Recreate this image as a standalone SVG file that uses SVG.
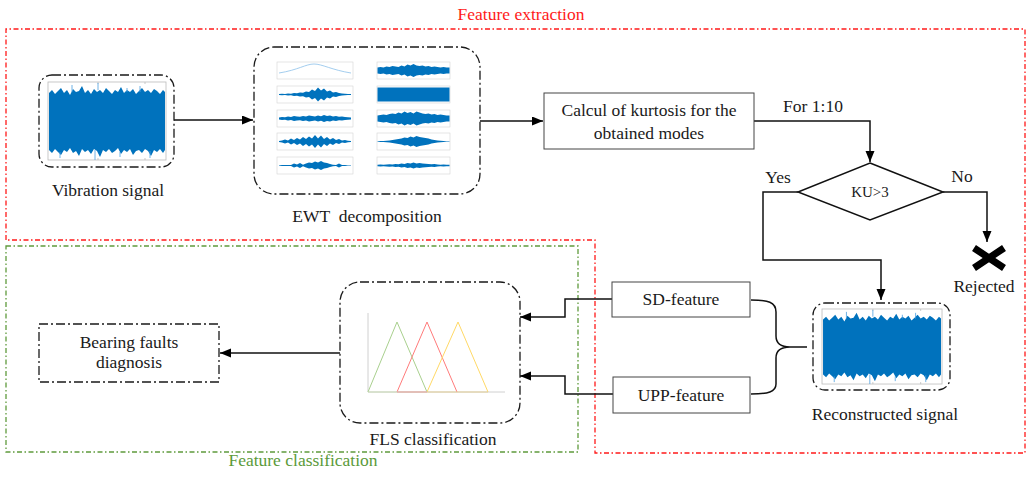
<svg xmlns="http://www.w3.org/2000/svg" width="1028" height="479" viewBox="0 0 1028 479">
<style>
.dd{fill:none;stroke:#1a1a1a;stroke-width:1.3;stroke-dasharray:9 3 2 3}
.ln{fill:none;stroke:#111;stroke-width:1.5}
.box{fill:#fff;stroke:#444;stroke-width:1}
.t{font-family:"Liberation Serif","Times New Roman",serif;font-size:17.5px;fill:#1a1a1a;text-anchor:middle}
.sp{fill:#fff;stroke:#d4d4d4;stroke-width:0.6}
.wv{fill:#0072bd}
</style>
<defs>
<marker id="ah" markerUnits="userSpaceOnUse" markerWidth="12" markerHeight="10" refX="11" refY="4.5" orient="auto">
<path d="M0,0 L11,4.5 L0,9 Z" fill="#000"/>
</marker>
<g id="sig">
<rect x="48" y="82" width="118" height="78" fill="#fff" stroke="#bbb" stroke-width="0.8"/>
<path d="M98,82v2 M145,82v2 M98,160v-2 M145,160v-2" stroke="#bbb" stroke-width="0.8"/>
<polygon class="wv" points="49,93 52,90 55,94 58,91 61,88 64,93 67,90 70,95 73,89 76,92 79,91 82,86 85,93 88,90 91,94 94,89 97,92 100,90 103,93 106,88 109,91 112,94 115,90 118,92 121,87 124,93 127,90 130,92 133,89 136,94 139,91 142,88 145,92 148,90 151,93 154,89 157,91 160,94 163,90 165,92 165,150 163,153 160,149 157,152 154,150 151,156 148,151 145,149 142,153 139,150 136,151 133,155 130,149 127,152 124,150 121,154 118,148 115,151 112,153 109,149 106,152 103,150 100,157 97,151 94,149 91,154 88,150 85,152 82,149 79,156 76,151 73,153 70,148 67,152 64,150 61,155 58,152 55,149 52,153 49,150"/>
<path d="M72,85V92 M98,83V90 M127,88V92 M140,86V92 M60,152V158 M95,150V160 M120,152V157 M150,151V158" stroke="#4a9ee0" stroke-width="0.8"/>
</g>
<path id="L2" d="M0,-0.5 L3,-0.8 6,-0.6 9,-1 12,-0.8 15,-1.5 18,-1.2 21,-2 24,-1.8 27,-3 30,-2.5 33,-5 36,-3.5 39,-7 42,-4 45,-6 48,-3 51,-4 54,-2 57,-2.5 60,-1.5 63,-1 66,-0.8 69,-0.6 72,-0.5 L72,0.5 69,0.6 66,0.8 63,1 60,1.5 57,2.5 54,2 51,4 48,3 45,6 42,4 39,7 36,3.5 33,5 30,2.5 27,3 24,1.8 21,2 18,1.2 15,1.5 12,0.8 9,1 6,0.6 3,0.8 0,0.5Z"/>
<path id="L3" d="M0,-1 L3,-1.5 6,-1.2 9,-2 12,-1.5 15,-2.5 18,-2 21,-1.8 24,-2.5 27,-2 30,-3 33,-2.5 36,-2 39,-3 42,-2.2 45,-3.5 48,-2.5 51,-3 54,-2 57,-2.5 60,-1.8 63,-2 66,-1.5 69,-1.2 72,-1 L72,1 69,1.2 66,1.5 63,2 60,1.8 57,2.5 54,2 51,3 48,2.5 45,3.5 42,2.2 39,3 36,2 33,2.5 30,3 27,2 24,2.5 21,1.8 18,2 15,2.5 12,1.5 9,2 6,1.2 3,1.5 0,1Z"/>
<path id="L4" d="M0,-0.5 L3,-1 6,-2 9,-1 12,-3 15,-1.5 18,-3.5 21,-2 24,-4.5 27,-2.5 30,-5 33,-3 36,-6.5 39,-3 42,-6 45,-2.5 48,-4.5 51,-2 54,-3.5 57,-1.5 60,-2.5 63,-1 66,-1.5 69,-0.8 72,-0.5 L72,0.5 69,0.8 66,1.5 63,1 60,2.5 57,1.5 54,3.5 51,2 48,4.5 45,2.5 42,6 39,3 36,6.5 33,3 30,5 27,2.5 24,4.5 21,2 18,3.5 15,1.5 12,3 9,1 6,2 3,1 0,0.5Z"/>
<path id="L5" d="M0,-0.3 L3,-0.5 6,-0.4 9,-0.6 12,-0.5 15,-2 18,-1 21,-2.5 24,-0.8 27,-2 30,-3 33,-2.5 36,-4 39,-3 42,-4.5 45,-3 48,-2.5 51,-1.5 54,-0.8 57,-0.6 60,-2 63,-0.5 66,-0.4 69,-0.3 72,-0.3 L72,0.3 69,0.3 66,0.4 63,0.5 60,2 57,0.6 54,0.8 51,1.5 48,2.5 45,3 42,4.5 39,3 36,4 33,2.5 30,3 27,2 24,0.8 21,2.5 18,1 15,2 12,0.5 9,0.6 6,0.4 3,0.5 0,0.3Z"/>
<path id="R1" d="M0,-3 L3,-3.5 6,-3 9,-4 12,-3.5 15,-4.5 18,-4 21,-3.5 24,-5 27,-4 30,-6 33,-5 36,-6.5 39,-5 42,-4.5 45,-5 48,-4 51,-4.5 54,-3.5 57,-4 60,-3.5 63,-3 66,-3.5 69,-3 72,-3 L72,3 69,3 66,3.5 63,3 60,3.5 57,4 54,3.5 51,4.5 48,4 45,5 42,4.5 39,5 36,6.5 33,5 30,6 27,4 24,5 21,3.5 18,4 15,4.5 12,3.5 9,4 6,3 3,3.5 0,3Z"/>
<path id="R3" d="M0,-3 L3,-3.5 6,-4 9,-3.5 12,-4.5 15,-5 18,-4.5 21,-6 24,-5 27,-7 30,-5.5 33,-6.5 36,-5 39,-7 42,-6 45,-5 48,-4.5 51,-5 54,-4 57,-4.5 60,-3.5 63,-4 66,-3.5 69,-3 72,-3 L72,3 69,3 66,3.5 63,4 60,3.5 57,4.5 54,4 51,5 48,4.5 45,5 42,6 39,7 36,5 33,6.5 30,5.5 27,7 24,5 21,6 18,4.5 15,5 12,4.5 9,3.5 6,4 3,3.5 0,3Z"/>
<path id="R4" d="M0,-0.3 L3,-0.5 6,-0.5 9,-0.8 12,-1 15,-1.5 18,-2 21,-2.5 24,-3 27,-4 30,-3.5 33,-5 36,-4 39,-5.5 42,-4.5 45,-4 48,-3.5 51,-3 54,-2 57,-1.5 60,-1 63,-0.8 66,-0.5 69,-0.3 72,-0.3 L72,0.3 69,0.3 66,0.5 63,0.8 60,1 57,1.5 54,2 51,3 48,3.5 45,4 42,4.5 39,5.5 36,4 33,5 30,3.5 27,4 24,3 21,2.5 18,2 15,1.5 12,1 9,0.8 6,0.5 3,0.5 0,0.3Z"/>
<path id="R5" d="M0,-0.8 L3,-1 6,-0.8 9,-1 12,-1.2 15,-1 18,-1.5 21,-1.2 24,-2 27,-1.5 30,-2.5 33,-2 36,-3 39,-2 42,-2.5 45,-2 48,-1.8 51,-1.5 54,-1.2 57,-1.5 60,-1 63,-0.8 66,-1 69,-0.8 72,-0.8 L72,0.8 69,0.8 66,1 63,0.8 60,1 57,1.5 54,1.2 51,1.5 48,1.8 45,2 42,2.5 39,2 36,3 33,2 30,2.5 27,1.5 24,2 21,1.2 18,1.5 15,1 12,1.2 9,1 6,0.8 3,1 0,0.8Z"/>
</defs>
<rect width="1028" height="479" fill="#fff"/>

<g id="frames">
<path d="M6,240 V29 H1025 V453 H595 V240 Z" fill="none" stroke="#ff1a1a" stroke-width="1.3" stroke-dasharray="5 2.5 1.5 2.5"/>
<rect x="6" y="246" width="572" height="206" fill="none" stroke="#5f9a3c" stroke-width="1.3" stroke-dasharray="5 2.5 1.5 2.5"/>
<text class="t" x="521" y="20" style="fill:#ff1a1a">Feature extraction</text>
<text class="t" x="303" y="466" style="fill:#5b9a3a">Feature classification</text>
</g>

<g id="connectors">
<path class="ln" d="M174,120 H253" marker-end="url(#ah)"/>
<path class="ln" d="M480,121 H543" marker-end="url(#ah)"/>
<path class="ln" d="M754,121 H870 V162" marker-end="url(#ah)"/>
<path class="ln" d="M798,192 H763 V260 H881 V300" marker-end="url(#ah)"/>
<path class="ln" d="M943,192 H987 V242" marker-end="url(#ah)"/>
<path class="ln" d="M612,299 H565 V317 H520" marker-end="url(#ah)"/>
<path class="ln" d="M613,394 H565 V376 H520" marker-end="url(#ah)"/>
<path class="ln" d="M340,353 H220" marker-end="url(#ah)"/>
<path class="ln" d="M751,300 C768,300 776,302 776,312 V336 C776,343 780,347 790,347 H807 M790,347 C780,347 776,351 776,358 V384 C776,392 768,394 751,394"/>
<text class="t" x="813" y="112">For 1:10</text>
<text class="t" x="778" y="183">Yes</text>
<text class="t" x="962" y="182">No</text>
</g>

<g id="vibration">
<rect class="dd" x="39" y="75" width="135" height="92" rx="13"/>
<use href="#sig"/>
<text class="t" x="108" y="196">Vibration signal</text>
</g>

<g id="ewt">
<rect class="dd" x="254" y="47" width="226" height="147" rx="20"/>
<rect class="sp" x="277" y="62" width="76" height="17"/>
<rect class="sp" x="277" y="86" width="76" height="17"/>
<rect class="sp" x="277" y="110" width="76" height="17"/>
<rect class="sp" x="277" y="133" width="76" height="17"/>
<rect class="sp" x="277" y="157" width="76" height="17"/>
<rect class="sp" x="377" y="62" width="73" height="17"/>
<rect class="sp" x="377" y="86" width="73" height="17"/>
<rect class="sp" x="377" y="110" width="73" height="17"/>
<rect class="sp" x="377" y="133" width="73" height="17"/>
<rect class="sp" x="377" y="157" width="73" height="17"/>
<path d="M279,73 C298,70 306,64 314,64 C322,64 332,70 351,73" fill="none" stroke="#8cc0ea" stroke-width="0.8"/>
<use href="#L2" class="wv" transform="translate(279,94.5)"/>
<use href="#L3" class="wv" transform="translate(279,118.5)"/>
<use href="#L4" class="wv" transform="translate(279,141.5)"/>
<use href="#L5" class="wv" transform="translate(279,165.5)"/>
<use href="#R1" class="wv" transform="translate(377.5,70.5)"/>
<rect class="wv" x="377.5" y="87.5" width="72" height="14"/>
<use href="#R3" class="wv" transform="translate(377.5,118.5)"/>
<use href="#R4" class="wv" transform="translate(377.5,141.5)"/>
<use href="#R5" class="wv" transform="translate(377.5,165.5)"/>
<text class="t" x="367" y="222" style="white-space:pre">EWT  decomposition</text>
</g>

<g id="kurtosis">
<rect class="box" x="544" y="93" width="210" height="56"/>
<text class="t" x="649" y="116">Calcul of kurtosis for the</text>
<text class="t" x="649" y="139">obtained modes</text>
</g>

<g id="decision">
<polygon points="870,163 943,192 870,220 798,192" fill="#fff" stroke="#111" stroke-width="1.5"/>
<text class="t" x="870" y="197" style="font-size:15px">KU&gt;3</text>
</g>

<g id="rejected">
<path d="M974,248 L1004,268 M974,268 L1004,248" stroke="#000" stroke-width="7"/>
<text class="t" x="984" y="292">Rejected</text>
</g>

<g id="reconstructed">
<rect class="dd" x="813" y="303" width="137" height="87" rx="12"/>
<use href="#sig" transform="translate(773.2,230.1) scale(1.017,0.962)"/>
<text class="t" x="885" y="420">Reconstructed signal</text>
</g>

<g id="sd-feature">
<rect class="box" x="612" y="282" width="138" height="35"/>
<text class="t" x="681" y="305">SD-feature</text>
</g>

<g id="upp-feature">
<rect class="box" x="613" y="377" width="137" height="36"/>
<text class="t" x="681" y="401">UPP-feature</text>
</g>

<g id="fls">
<rect class="dd" x="340" y="282" width="180" height="141" rx="20"/>
<path d="M368,313 V392 H505" fill="none" stroke="#d0d0d0" stroke-width="1"/>
<polyline points="368,392 397,322 427,392" fill="none" stroke="#a9d08e" stroke-width="1"/>
<polyline points="397,392 427,322 457,392" fill="none" stroke="#ff7b7b" stroke-width="1"/>
<polyline points="427,392 458,322 488,392" fill="none" stroke="#ffd966" stroke-width="1"/>
<path d="M368,392 H427" stroke="#c9dcb5" stroke-width="1.2"/>
<path d="M397,392 H427" stroke="#e9a8a8" stroke-width="1.2"/>
<path d="M427,392 H488" stroke="#e3cf98" stroke-width="1.2"/>
<text class="t" x="433" y="445">FLS classification</text>
</g>

<g id="diagnosis">
<rect class="dd" x="39" y="324" width="180" height="58"/>
<text class="t" x="129" y="348">Bearing faults</text>
<text class="t" x="129" y="368">diagnosis</text>
</g>
</svg>
